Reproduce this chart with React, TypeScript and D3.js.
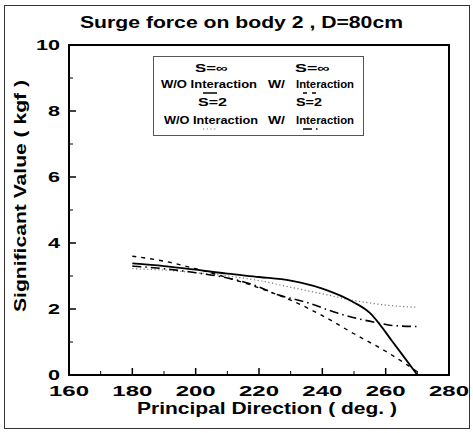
import React from "react";
import * as d3 from "d3";

const degrees = [180, 190, 200, 210, 220, 230, 240, 250, 255, 258, 262, 266, 270];
const solidInfNoInt = [3.38, 3.3, 3.19, 3.07, 2.97, 2.86, 2.62, 2.2, 1.88, 1.55, 1.03, 0.52, 0.0];

const degDashed = [180, 190, 200, 210, 220, 230, 240, 250, 260, 270];
const dashedInfInt = [3.6, 3.45, 3.22, 2.95, 2.64, 2.27, 1.8, 1.25, 0.72, 0.1];

const degDotted = [180, 190, 200, 210, 220, 230, 240, 250, 260, 270];
const dottedS2NoInt = [3.22, 3.18, 3.1, 3.0, 2.86, 2.66, 2.46, 2.26, 2.12, 2.05];

const degDashDot = [180, 190, 200, 210, 218, 226, 235, 245, 252, 258, 262, 270];
const dashDotS2Int = [3.3, 3.22, 3.1, 2.94, 2.74, 2.43, 2.2, 1.87, 1.69, 1.57, 1.5, 1.47];

const xTicks = [160, 180, 200, 220, 240, 260, 280];
const xMinor = [170, 190, 210, 230, 250, 270];
const yTicks = [0, 2, 4, 6, 8, 10];
const yMinor = [1, 3, 5, 7, 9];

const title = "Surge force on body 2 , D=80cm";
const xTitle = "Principal Direction  ( deg. )";
const yTitle = "Significant Value  ( kgf )";

const FONT = "'Liberation Sans', Arial, Helvetica, sans-serif";

export default function App() {
  const W = 473, H = 433;
  const x = d3.scaleLinear().domain([160, 280]).range([69, 449]);
  const y = d3.scaleLinear().domain([0, 10]).range([375, 45]);

  const mk = (xs: number[], ys: number[]) =>
    d3.line<number>()
      .x((_, i) => x(xs[i]))
      .y((v) => y(v))
      .curve(d3.curveMonotoneX)(ys) || "";

  const legendText = (tx: number, ty: number, s: string, len: number) => (
    <text x={tx} y={ty} textLength={len} lengthAdjust="spacingAndGlyphs">{s}</text>
  );

  return (
    <svg width={W} height={H} style={{ position: "absolute", left: 0, top: 0, background: "#fff", whiteSpace: "pre" }}>
      <rect x={0} y={0} width={W} height={H} fill="#fff" />
      <rect x={4.5} y={5.5} width={465} height={423} fill="none" stroke="#333" strokeWidth={1} />
      <text x={80} y={28} fontFamily={FONT} fontWeight="bold" fontSize={16}
        textLength={323} lengthAdjust="spacingAndGlyphs">{title}</text>

      {/* axes box */}
      <rect x={69} y={45} width={380} height={330} fill="none" stroke="#000" strokeWidth={2} />

      {xTicks.map((t) => (
        <g key={"xt" + t}>
          <line x1={x(t)} x2={x(t)} y1={375} y2={368} stroke="#000" strokeWidth={1.5} />
          <text x={x(t) - 20} y={396} fontFamily={FONT} fontWeight="bold" fontSize={15}
            textLength={40} lengthAdjust="spacingAndGlyphs">{t}</text>
        </g>
      ))}
      {xMinor.map((t) => (
        <line key={"xm" + t} x1={x(t)} x2={x(t)} y1={375} y2={371} stroke="#000" strokeWidth={1} />
      ))}
      {yTicks.map((t) => {
        const len = String(t).length * 12;
        return (
          <g key={"yt" + t}>
            <line x1={69} x2={76} y1={y(t)} y2={y(t)} stroke="#000" strokeWidth={1.5} />
            <text x={60 - len} y={y(t) + 5} fontFamily={FONT} fontWeight="bold" fontSize={15}
              textLength={len} lengthAdjust="spacingAndGlyphs">{t}</text>
          </g>
        );
      })}
      {yMinor.map((t) => (
        <line key={"ym" + t} x1={69} x2={73} y1={y(t)} y2={y(t)} stroke="#000" strokeWidth={1} />
      ))}

      <text x={137} y={414} fontFamily={FONT} fontWeight="bold" fontSize={16}
        textLength={260} lengthAdjust="spacingAndGlyphs">{xTitle}</text>
      <text transform="translate(26,312) rotate(-90)" fontFamily={FONT} fontWeight="bold" fontSize={16}
        textLength={232} lengthAdjust="spacingAndGlyphs">{yTitle}</text>

      {/* series */}
      <path d={mk(degDotted, dottedS2NoInt)} fill="none" stroke="#777" strokeWidth={1.2} strokeDasharray="1.2 2.5" />
      <path d={mk(degDashDot, dashDotS2Int)} fill="none" stroke="#000" strokeWidth={1.6} strokeDasharray="9 4 1.5 4" />
      <path d={mk(degDashed, dashedInfInt)} fill="none" stroke="#000" strokeWidth={1.4} strokeDasharray="4 5" />
      <path d={mk(degrees, solidInfNoInt)} fill="none" stroke="#000" strokeWidth={1.8} />

      {/* legend */}
      <rect x={153.5} y={56.5} width={210} height={79} fill="#fff" stroke="#555" strokeWidth={1} />
      <g fontFamily={FONT} fontWeight="bold" fontSize={11}>
        {legendText(195, 72, "S=∞", 33)}
        {legendText(161, 88, "W/O Interaction", 96)}
        {legendText(198, 106, "S=2", 29)}
        {legendText(164, 124, "W/O Interaction", 94)}
        {legendText(295, 72, "S=∞", 35)}
        {legendText(268, 88, "W/", 17)}
        {legendText(296, 88, "Interaction", 58)}
        {legendText(296, 106, "S=2", 26)}
        {legendText(268, 124, "W/", 17)}
        {legendText(296, 124, "Interaction", 58)}
      </g>
      <line x1={203} x2={217} y1={93} y2={93} stroke="#000" strokeWidth={1.5} />
      <line x1={303} x2={317} y1={93} y2={93} stroke="#000" strokeWidth={1.4} strokeDasharray="4 5" />
      <line x1={203} x2={217} y1={129} y2={129} stroke="#777" strokeWidth={1.2} strokeDasharray="1.2 2.5" />
      <line x1={303} x2={320} y1={129} y2={129} stroke="#000" strokeWidth={1.6} strokeDasharray="9 4 1.5 4" />
    </svg>
  );
}
